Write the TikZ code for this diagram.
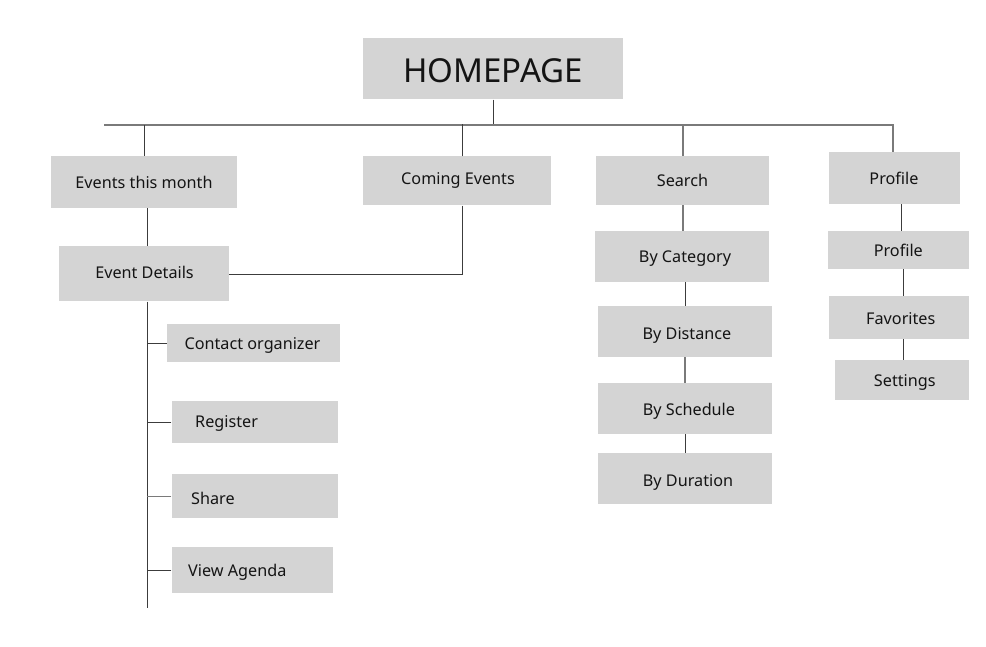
\documentclass[tikz,border=0pt]{standalone}
\usepackage{fontspec}
\setmainfont{Noto Sans}
\definecolor{boxgray}{HTML}{D4D4D4}
\definecolor{txt}{HTML}{141414}
\definecolor{lnd}{HTML}{3C3C3C}
\definecolor{lnl}{HTML}{7A7A7A}
\tikzset{
  box/.style={rectangle, fill=boxgray, draw=none, inner sep=0pt},
  lbl/.style={inner sep=0pt, text=txt, text height=11.6pt, text depth=0pt,
              font=\fontsize{16.2}{19}\selectfont},
  lblw/.style={lbl, anchor=west},
  ln/.style={draw=lnd, line width=0.8pt},
  lnb/.style={draw=lnl, line width=1.4pt},
}
\begin{document}
\begin{tikzpicture}[x=1pt, y=-1pt]
\useasboundingbox[fill=white] (0,0) rectangle (986,647);
% boxes
\node[box, minimum width=260pt, minimum height=61pt] (home) at (493,69) {};
\node[lbl, text height=23.6pt, font=\fontsize{33}{38}\selectfont] (homet) at (493,71) {HOMEPAGE};

\node[box, minimum width=186pt, minimum height=52pt] (evm) at (144,182) {};
\node[lbl] (evmt) at (144,182.5) {Events this month};
\node[box, minimum width=188pt, minimum height=49pt] (cev) at (457,181) {};
\node[lbl] (cevt) at (458,179) {Coming Events};
\node[box, minimum width=173pt, minimum height=49pt] (srch) at (682.5,180.5) {};
\node[lbl] (srcht) at (682.5,181) {Search};
\node[box, minimum width=131pt, minimum height=52pt] (prof) at (894.5,178) {};
\node[lbl] (proft) at (894,178.5) {Profile};

\node[box, minimum width=170pt, minimum height=55pt] (edet) at (144,274) {};
\node[lbl] (edett) at (144.5,273) {Event Details};
\node[box, minimum width=173pt, minimum height=38pt] (cont) at (253.5,343) {};
\node[lbl] (contt) at (252.5,344) {Contact organizer};
\node[box, minimum width=166pt, minimum height=42pt] (reg) at (254.5,422) {};
\node[lblw] (regt) at (195,422) {Register};
\node[box, minimum width=166pt, minimum height=44pt] (share) at (254.5,496) {};
\node[lblw] (sharet) at (191,499) {Share};
\node[box, minimum width=161pt, minimum height=46pt] (agenda) at (252,570) {};
\node[lblw] (agendat) at (188,570.5) {View Agenda};

\node[box, minimum width=174pt, minimum height=51pt] (cat) at (682,256.5) {};
\node[lbl] (catt) at (685,256.5) {By Category};
\node[box, minimum width=174pt, minimum height=51pt] (dist) at (685,331.5) {};
\node[lbl] (distt) at (687,334) {By Distance};
\node[box, minimum width=174pt, minimum height=51pt] (sched) at (685,408.5) {};
\node[lbl] (schedt) at (689,410) {By Schedule};
\node[box, minimum width=174pt, minimum height=51pt] (dur) at (685,478.5) {};
\node[lbl] (durt) at (688,481) {By Duration};

\node[box, minimum width=141pt, minimum height=38pt] (prof2) at (898.5,250) {};
\node[lbl] (prof2t) at (898.3,250.5) {Profile};
\node[box, minimum width=140pt, minimum height=43pt] (fav) at (898.5,317.5) {};
\node[lbl] (favt) at (900.8,319) {Favorites};
\node[box, minimum width=134pt, minimum height=40pt] (sett) at (901.5,380) {};
\node[lbl] (settt) at (904.8,380.5) {Settings};

\coordinate (busL) at (104,125);
\coordinate (edEnd) at (147,608);

% connectors
\draw[ln] (home.south) -- (home.south |- busL);
\draw[lnb] (busL) -- ([xshift=-1.5pt]prof.north |- busL) -- ([xshift=-1.5pt]prof.north);
\draw[ln] (evm.north) -- (evm.north |- busL);
\draw[ln] ([xshift=5.5pt]cev.north) -- ++(0,-32);
\draw[lnb] ([xshift=0.5pt]srch.north) -- ++(0,-31);

\draw[ln] ([xshift=3pt]evm.south) -- ([xshift=3pt]edet.north);
\draw[ln] ([xshift=5.5pt]cev.south) |- (edet.east);
\draw[ln] ([xshift=3pt]edet.south) -- (edEnd);
\draw[ln] (cont.west) -- (cont.west -| edEnd);
\draw[ln] (reg.west) -- (reg.west -| edEnd);
\draw[lnb, line width=1pt] (share.west) -- (share.west -| edEnd);
\draw[ln] (agenda.west) -- (agenda.west -| edEnd);

\draw[lnb] ([xshift=0.5pt]srch.south) -- ([xshift=0.5pt]srch.south |- cat.north);
\draw[ln] (dist.north) -- (dist.north |- cat.south);
\draw[lnb] (sched.north) -- (sched.north |- dist.south);
\draw[ln] (dur.north) -- (dur.north |- sched.south);

\draw[ln] ([xshift=6.5pt]prof.south) -- ([xshift=6.5pt]prof.south |- prof2.north);
\draw[ln] ([xshift=4.5pt]prof2.south) -- ([xshift=4.5pt]prof2.south |- fav.north);
\draw[ln] ([xshift=4.5pt]fav.south) -- ([xshift=4.5pt]fav.south |- sett.north);
\end{tikzpicture}
\end{document}
